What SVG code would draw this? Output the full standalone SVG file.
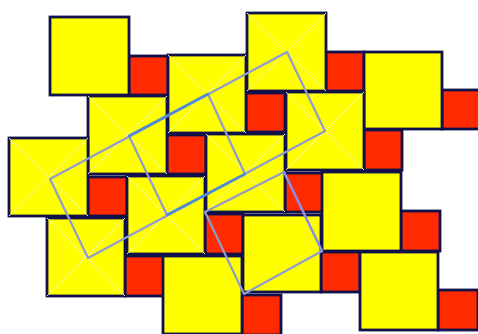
<svg xmlns="http://www.w3.org/2000/svg" width="478" height="334" viewBox="0 0 478 334">
<style>
.y{fill:#ffff00;stroke:#10104a;stroke-width:2.8}
.r{fill:#ff2a00;stroke:#10104a;stroke-width:2.8}
.d{stroke:#f4f4b8;stroke-width:1;fill:none}
.o{stroke:#8e9cd2;stroke-width:2.2;fill:none;stroke-linecap:round;stroke-linejoin:round}
.t{stroke:#4f8ad6;stroke-width:2.6;fill:none;stroke-linecap:round}
.p{stroke:#8a8fe2;stroke-width:2.6;fill:none;stroke-linecap:round}
</style>
<rect width="478" height="334" fill="#ffffff"/>
<g id="red">
<rect class="r" x="129" y="56" width="39" height="39"/>
<rect class="r" x="326" y="52" width="38" height="39"/>
<rect class="r" x="442" y="90" width="39" height="39"/>
<rect class="r" x="246" y="93" width="39" height="39"/>
<rect class="r" x="167" y="135" width="39" height="39"/>
<rect class="r" x="364" y="130" width="38" height="40"/>
<rect class="r" x="88" y="177" width="39" height="39"/>
<rect class="r" x="285" y="173" width="38" height="39"/>
<rect class="r" x="205" y="214" width="38" height="40"/>
<rect class="r" x="401" y="211" width="39" height="40"/>
<rect class="r" x="125" y="256" width="39" height="40"/>
<rect class="r" x="321" y="252" width="39" height="40"/>
<rect class="r" x="242" y="295" width="39" height="40"/>
<rect class="r" x="438" y="290" width="40" height="40"/>
</g>
<g id="yellow">
<rect class="y" x="50" y="17" width="79" height="78"/>
<rect class="y" x="168" y="55" width="78" height="78"/>
<rect class="y" x="247" y="13" width="79" height="78"/>
<rect class="y" x="364" y="52" width="78" height="77"/>
<rect class="y" x="88" y="96" width="79" height="78"/>
<rect class="y" x="286" y="92" width="78" height="78"/>
<rect class="y" x="9" y="138" width="79" height="78"/>
<rect class="y" x="206" y="134" width="79" height="78"/>
<rect class="y" x="127" y="176" width="78" height="78"/>
<rect class="y" x="322" y="172" width="79" height="79"/>
<rect class="y" x="47" y="218" width="78" height="78"/>
<rect class="y" x="243" y="215" width="78" height="77"/>
<rect class="y" x="163" y="256" width="79" height="78"/>
<rect class="y" x="360" y="252" width="78" height="78"/>
</g>
<g id="diagonals">
<path class="d" d="M168 55L246 133M246 55L168 133"/>
<path class="d" d="M247 13L326 91M326 13L247 91"/>
<path class="d" d="M88 96L167 174M167 96L88 174"/>
<path class="d" d="M286 92L364 170M364 92L286 170"/>
<path class="d" d="M9 138L88 216M88 138L9 216"/>
<path class="d" d="M206 134L285 212M285 134L206 212"/>
<path class="d" d="M127 176L205 254M205 176L127 254"/>
<path class="d" d="M47 218L125 296M125 218L47 296"/>
</g>
<g id="connectors">
<path class="o" d="M50 179L287 52L325 131L88 258Z"/>
<path class="o" d="M129 136L167 215M208 94L245 174"/>
<path class="t" d="M129 136L208 94M167 215L245 174"/>
<path class="o" d="M205 212L284 172M322 251L244 294L205 212"/>
<path class="p" d="M284 172L322 251"/>
</g>
</svg>
